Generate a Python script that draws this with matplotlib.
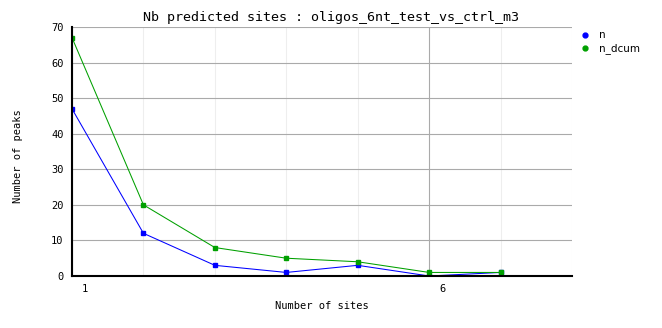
import numpy as np
import matplotlib
matplotlib.use("Agg")
import matplotlib.pyplot as plt
import matplotlib.transforms as mtransforms

sites = [1, 2, 3, 4, 5, 6, 7]
n = [47, 12, 3, 1, 3, 0, 1]
n_dcum = [67, 20, 8, 5, 4, 1, 1]

mono = "DejaVu Sans Mono"

fig = plt.figure(figsize=(6.62, 3.28), dpi=100)
ax = fig.add_axes([72 / 662, 52 / 328, 500 / 662, 249 / 328])

# grid
ax.set_xlim(1, 8)
ax.set_ylim(0, 70)
ax.set_yticks(np.arange(0, 71, 10))
ax.set_xticks([1, 6])
ax.set_xticks(np.arange(1, 9, 1), minor=True)
ax.grid(True, axis="y", which="major", color="#aaaaaa", linewidth=0.8)
ax.grid(True, axis="x", which="major", color="#aaaaaa", linewidth=0.8)
ax.grid(True, axis="x", which="minor", color="#eeeeee", linewidth=0.8)
ax.set_axisbelow(True)

ax.plot(sites, n, color="#0000ff", linewidth=0.75, marker="s", markersize=2.8, label="n")
ax.plot(sites, n_dcum, color="#00a000", linewidth=0.75, marker="s", markersize=2.8, label="n_dcum")

for s in ["top", "right"]:
    ax.spines[s].set_visible(False)
for s in ["left", "bottom"]:
    ax.spines[s].set_linewidth(1.5)
    ax.spines[s].set_color("black")

ax.tick_params(axis="both", which="both", length=0)
ax.tick_params(axis="y", pad=6, labelsize=7.5)
ax.tick_params(axis="x", pad=6, labelsize=7.5)
for lab in ax.get_xticklabels() + ax.get_yticklabels():
    lab.set_family(mono)
offset = mtransforms.ScaledTranslation(13 / 100, 0, fig.dpi_scale_trans)
for lab in ax.get_xticklabels():
    lab.set_transform(lab.get_transform() + offset)

ax.set_xlabel("Number of sites", family=mono, fontsize=7.5, labelpad=5)
fig.text(18 / 662, 1 - 156 / 328, "Number of peaks", family=mono, fontsize=7.5,
         rotation=90, ha="center", va="center")
fig.text(0.5, 1 - 17 / 328, "Nb predicted sites : oligos_6nt_test_vs_ctrl_m3",
         family=mono, fontsize=9.6, ha="center", va="center")

leg = fig.legend(handles=[
    plt.Line2D([], [], color="#0000ff", marker="o", linestyle="none", markersize=3.5, label="n"),
    plt.Line2D([], [], color="#00a000", marker="o", linestyle="none", markersize=3.5, label="n_dcum"),
], loc="upper left", bbox_to_anchor=(576 / 662, 1 - 25 / 328), frameon=False,
    fontsize=7.5, handlelength=0.8, handletextpad=0.9, labelspacing=0.3, borderpad=0)

fig.savefig("out.png", dpi=100)
